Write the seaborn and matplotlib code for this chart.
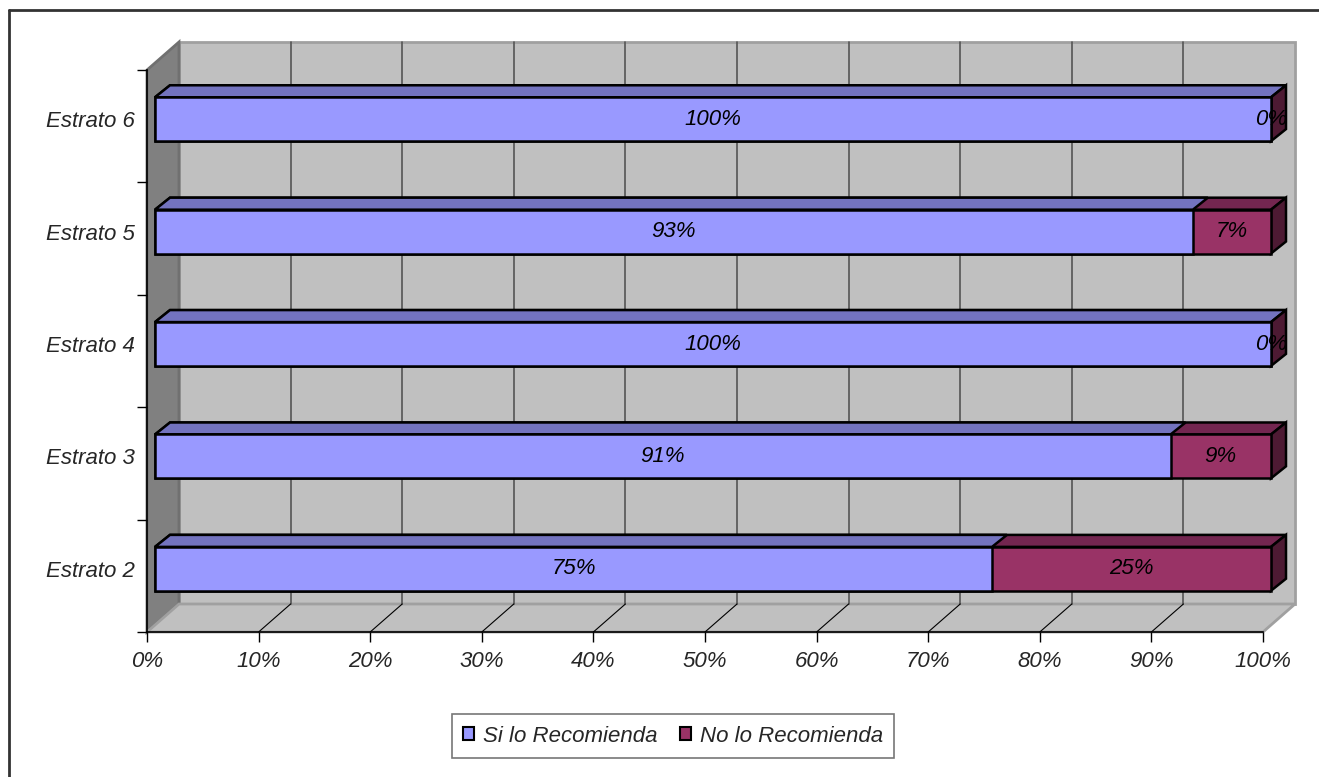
import numpy as np
import pandas as pd
import matplotlib.pyplot as plt
import matplotlib.transforms as mtransforms
from matplotlib.patches import Polygon, Patch
from matplotlib.lines import Line2D
from matplotlib import font_manager
import seaborn as sns

# datos
estratos = ['Estrato 6', 'Estrato 5', 'Estrato 4', 'Estrato 3', 'Estrato 2']
si_recomienda = [100, 93, 100, 91, 75]
no_recomienda = [0, 7, 0, 9, 25]
x_ticks = [0, 10, 20, 30, 40, 50, 60, 70, 80, 90, 100]

df = pd.DataFrame({'Estrato': estratos, 'Si': si_recomienda, 'No': no_recomienda})
df['Total'] = df['Si'] + df['No']

sns.set_theme(style='white')
nombres = {f.name for f in font_manager.fontManager.ttflist}
if 'Liberation Sans Narrow' in nombres:
    plt.rcParams['font.family'] = ['Liberation Sans Narrow', 'DejaVu Sans']
    FS = 19
else:
    plt.rcParams['font.family'] = ['Liberation Sans', 'DejaVu Sans']
    FS = 16
print(FS)
plt.rcParams['font.style'] = 'italic'

# colores estilo Excel
c_si, c_si_top = '#9999ff', '#7373bf'
c_no, c_no_top, c_no_side = '#993366', '#732650', '#4d1a33'
c_wall, c_wall_edge, c_side_wall = '#c0c0c0', '#a0a0a0', '#808080'

fig = plt.figure(figsize=(13.19, 7.77), dpi=100)
W, H = 1319, 777
ax = fig.add_axes([147 / W, 1 - 632 / H, 1116 / W, 562 / H])
ax.set_facecolor('none')

# profundidad 3D en unidades de datos
DX = 32 / 11.16          # % en x
DY = 28 / 112.4          # categorias en y (hacia arriba = negativo)
f0 = 0.25                # posicion de la cara frontal de la barra
BDX = 15 / 11.16
BDY = 12 / 112.4

# paredes
ytop, ybot = -0.5, 4.5
walls = [
    ([(DX, ytop - DY), (100 + DX, ytop - DY), (100 + DX, ybot - DY), (DX, ybot - DY)], c_wall, c_wall_edge),
    ([(0, ybot), (0, ytop), (DX, ytop - DY), (DX, ybot - DY)], c_side_wall, '#707070'),
    ([(0, ybot), (100, ybot), (100 + DX, ybot - DY), (DX, ybot - DY)], c_wall, c_wall_edge),
]
for pts, fc, ec in walls:
    ax.add_patch(Polygon(pts, closed=True, facecolor=fc, edgecolor=ec, lw=2, zorder=0.5, clip_on=False))

for xv in x_ticks[1:-1]:
    ax.plot([xv + DX, xv + DX], [ytop - DY, ybot - DY], color='#555555', lw=1.2, zorder=0.7, clip_on=False)
    ax.plot([xv, xv + DX], [ybot, ybot - DY], color='black', lw=0.8, zorder=0.7, clip_on=False)

# barras (frente)
n0 = len(ax.patches)
sns.barplot(data=df, x='Total', y='Estrato', order=estratos, color=c_no, width=0.39,
            orient='h', errorbar=None, edgecolor='black', linewidth=1.8, saturation=1, ax=ax)
n1 = len(ax.patches)
sns.barplot(data=df, x='Si', y='Estrato', order=estratos, color=c_si, width=0.39,
            orient='h', errorbar=None, edgecolor='black', linewidth=1.8, saturation=1, ax=ax)
bars = list(ax.patches)[n0:]
n_no = n1 - n0

shift = mtransforms.Affine2D().translate(f0 * DX, -f0 * DY)
for i, p in enumerate(bars):
    p.set_transform(shift + ax.transData)
    p.set_zorder(3)

    x0, y0, w, h = p.get_x(), p.get_y(), p.get_width(), p.get_height()
    x1 = x0 + w
    top = [(x0, y0), (x1, y0), (x1 + BDX, y0 - BDY), (x0 + BDX, y0 - BDY)]
    is_no = i < n_no
    ax.add_patch(Polygon(top, closed=True, facecolor=c_no_top if is_no else c_si_top,
                         edgecolor='black', lw=1.8, zorder=2.1 if is_no else 2.2,
                         transform=shift + ax.transData, clip_on=False))
    if is_no:
        side = [(x1, y0), (x1, y0 + h), (x1 + BDX, y0 + h - BDY), (x1 + BDX, y0 - BDY)]
        ax.add_patch(Polygon(side, closed=True, facecolor=c_no_side, edgecolor='black', lw=1.8,
                             zorder=2.3, transform=shift + ax.transData, clip_on=False))
    p.set_clip_on(False)

# etiquetas
for i, (si, no) in enumerate(zip(si_recomienda, no_recomienda)):
    yc = i - f0 * DY
    ax.text(si / 2 + f0 * DX, yc, f'{si}%', ha='center', va='center', fontsize=FS,
            style='italic', color='black', zorder=5)
    ax.text(si + no / 2 + f0 * DX, yc, f'{no}%', ha='center', va='center', fontsize=FS,
            style='italic', color='black', zorder=5)

# ejes
ax.set_xlim(0, 100)
ax.set_ylim(ybot, ytop)
ax.set_xticks(x_ticks, [f'{v}%' for v in x_ticks])
ax.set_yticks([i - f0 * DY for i in range(len(estratos))], estratos)
ax.set_yticks(np.arange(-0.5, len(estratos)), minor=True)
ax.tick_params(axis='x', which='major', length=7, width=1, color='black', direction='out',
               bottom=True, pad=7, labelsize=FS)
ax.tick_params(axis='y', which='major', length=0, pad=9, labelsize=FS)
ax.tick_params(axis='y', which='minor', length=7, width=1, color='black', direction='out', left=True)
for lbl in ax.get_xticklabels() + ax.get_yticklabels():
    lbl.set_style('italic')
ax.set_xlabel('')
ax.set_ylabel('')
for s in ['top', 'right']:
    ax.spines[s].set_visible(False)
for s in ['left', 'bottom']:
    ax.spines[s].set_color('black')
    ax.spines[s].set_linewidth(1.2)
    ax.spines[s].set_zorder(1)

# leyenda
handles = [Patch(facecolor=c_si, edgecolor='black', lw=1.5, label='Si lo Recomienda'),
           Patch(facecolor=c_no, edgecolor='black', lw=1.5, label='No lo Recomienda')]
leg = fig.legend(handles=handles, loc='center', bbox_to_anchor=(673 / W, 1 - 736 / H), ncol=2,
                 frameon=True, fancybox=False, fontsize=FS, handlelength=0.5, handleheight=0.5,
                 handletextpad=0.4, columnspacing=1.0, borderpad=0.5)
leg.get_frame().set_edgecolor('#555555')
leg.get_frame().set_linewidth(1.2)
for t in leg.get_texts():
    t.set_style('italic')

# marco exterior
fig.add_artist(Line2D([9 / W, 1], [1 - 10 / H, 1 - 10 / H], color='#333333', lw=2))
fig.add_artist(Line2D([9 / W, 9 / W], [0, 1 - 10 / H], color='#333333', lw=2))

plt.savefig('out.png', dpi=100)
